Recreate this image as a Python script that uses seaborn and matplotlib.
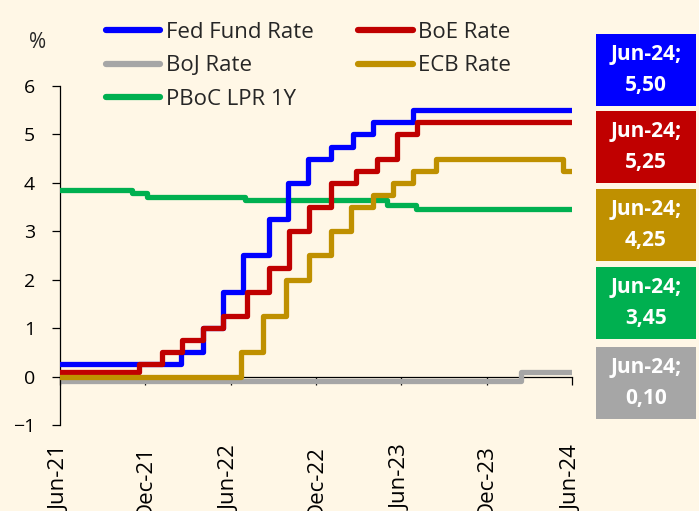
import matplotlib
matplotlib.use("Agg")
import matplotlib.pyplot as plt
import matplotlib.dates as mdates
from matplotlib.patches import Rectangle
import pandas as pd
import seaborn as sns

# ---------------- data ----------------
series_names = ["Fed Fund Rate", "BoE Rate", "BoJ Rate", "ECB Rate", "PBoC LPR 1Y"]

fed_dates = ["2021-06-01", "2022-02-15", "2022-04-03", "2022-05-16", "2022-06-28",
             "2022-08-22", "2022-10-02", "2022-11-14", "2023-01-02", "2023-02-18",
             "2023-04-02", "2023-06-27"]
fed_rates = [0.25, 0.50, 1.00, 1.75, 2.50, 3.25, 4.00, 4.50, 4.75, 5.00, 5.25, 5.50]

boe_dates = ["2021-06-01", "2021-11-17", "2022-01-05", "2022-02-17", "2022-04-03",
             "2022-05-16", "2022-07-06", "2022-08-22", "2022-10-04", "2022-11-16",
             "2023-01-02", "2023-02-25", "2023-04-11", "2023-05-23", "2023-07-05"]
boe_rates = [0.10, 0.25, 0.50, 0.75, 1.00, 1.25, 1.75, 2.25, 3.00, 3.50, 4.00,
             4.25, 4.50, 5.00, 5.25]

boj_dates = ["2021-06-01", "2024-02-13"]
boj_rates = [-0.10, 0.10]

ecb_dates = ["2021-06-01", "2022-06-23", "2022-08-09", "2022-09-28", "2022-11-16",
             "2023-01-02", "2023-02-14", "2023-04-02", "2023-05-15", "2023-06-27",
             "2023-08-15", "2024-05-13"]
ecb_rates = [0.00, 0.50, 1.25, 2.00, 2.50, 3.00, 3.50, 3.75, 4.00, 4.25, 4.50, 4.25]

pboc_dates = ["2021-06-01", "2021-11-02", "2021-12-04", "2022-07-02", "2023-05-02",
              "2023-07-03"]
pboc_rates = [3.85, 3.80, 3.70, 3.65, 3.55, 3.45]

end_date = "2024-06-01"
tick_dates = ["2021-06-01", "2021-12-01", "2022-06-01", "2022-12-01",
              "2023-06-01", "2023-12-01", "2024-06-01"]
y_ticks = [-1, 0, 1, 2, 3, 4, 5, 6]
last_label = "Jun-24"

colors = {"Fed Fund Rate": "#0000FF", "BoE Rate": "#C00000", "BoJ Rate": "#A6A6A6",
          "ECB Rate": "#BF9000", "PBoC LPR 1Y": "#00B050"}

raw = {"Fed Fund Rate": (fed_dates, fed_rates), "BoE Rate": (boe_dates, boe_rates),
       "BoJ Rate": (boj_dates, boj_rates), "ECB Rate": (ecb_dates, ecb_rates),
       "PBoC LPR 1Y": (pboc_dates, pboc_rates)}

rows = []
for name, (d, r) in raw.items():
    for di, ri in zip(list(d) + [end_date], list(r) + [r[-1]]):
        rows.append({"series": name, "date": pd.Timestamp(di), "rate": ri})
df = pd.DataFrame(rows)

# ---------------- style ----------------
BG = "#FFF7E6"
sns.set_style("ticks")
plt.rcParams["font.family"] = ["Open Sans", "Noto Sans", "DejaVu Sans"]
plt.rcParams["axes.facecolor"] = BG
plt.rcParams["figure.facecolor"] = BG

fig = plt.figure(figsize=(6.99, 5.11), dpi=100)
ax = fig.add_axes([60 / 699, 1 - 425 / 511, (572 - 60) / 699, (425 - 86) / 511])

zorders = {"BoJ Rate": 2, "PBoC LPR 1Y": 3, "Fed Fund Rate": 4, "BoE Rate": 5, "ECB Rate": 6}
handles = {}
for name in series_names:
    sub = df[df["series"] == name]
    sns.lineplot(data=sub, x="date", y="rate", color=colors[name], drawstyle="steps-post",
                 linewidth=3.8, ax=ax, label=name, zorder=zorders[name],
                 solid_capstyle="round", solid_joinstyle="round", estimator=None)
    handles[name] = ax.get_lines()[-1]

ax.set_xlim(pd.Timestamp(tick_dates[0]), pd.Timestamp(tick_dates[-1]))
ax.set_ylim(y_ticks[0], y_ticks[-1])
ax.set_yticks(y_ticks)
ax.set_xticks([pd.Timestamp(t) for t in tick_dates])
ax.xaxis.set_major_formatter(mdates.DateFormatter("%b-%y"))
ax.set_xlabel("")
ax.set_ylabel("")

for s in ["top", "right"]:
    ax.spines[s].set_visible(False)
ax.spines["bottom"].set_position(("data", 0))
ax.spines["bottom"].set_zorder(1)
for s in ["left", "bottom"]:
    ax.spines[s].set_linewidth(0.9)
    ax.spines[s].set_color("#000000")

ax.tick_params(axis="y", direction="out", length=6, width=0.9, pad=12, labelsize=14,
               colors="#000000")
ax.tick_params(axis="x", direction="out", length=6, width=0.9, pad=43, labelsize=16,
               colors="#000000", labelrotation=90)
for lab in ax.get_xticklabels():
    lab.set_verticalalignment("top")

order = ["Fed Fund Rate", "BoJ Rate", "PBoC LPR 1Y", "BoE Rate", "ECB Rate"]
leg = ax.legend([handles[n] for n in order], order, ncol=2, frameon=False,
                loc="upper left", bbox_to_anchor=(106 / 699, 1 - 22 / 511),
                bbox_transform=fig.transFigure, fontsize=16, handlelength=2.45,
                handletextpad=0.25, columnspacing=2.0, labelspacing=0.56,
                borderpad=0, borderaxespad=0)
for lh in leg.get_lines():
    lh.set_linewidth(4.5)
    lh.set_solid_capstyle("round")

fig.text(38 / 699, 1 - 42 / 511, "%", ha="center", va="center", fontsize=15)

# value boxes on the right
box_tops = [34, 111, 189, 267, 347]
box_order = ["Fed Fund Rate", "BoE Rate", "ECB Rate", "PBoC LPR 1Y", "BoJ Rate"]
for name, top in zip(box_order, box_tops):
    last_val = raw[name][1][-1]
    x0, w, h = 596, 100, 72
    fig.patches.append(Rectangle((x0 / 699, 1 - (top + h) / 511), w / 699, h / 511,
                                 transform=fig.transFigure, facecolor=colors[name],
                                 edgecolor="none", zorder=1))
    txt = f"{last_label};\n{last_val:.2f}".replace(".", ",")
    fig.text((x0 + w / 2) / 699, 1 - (top + h / 2) / 511, txt, ha="center", va="center",
             color="white", fontsize=15, fontweight="bold", linespacing=1.6, zorder=2)

fig.savefig("out.png", dpi=100, facecolor=BG)
